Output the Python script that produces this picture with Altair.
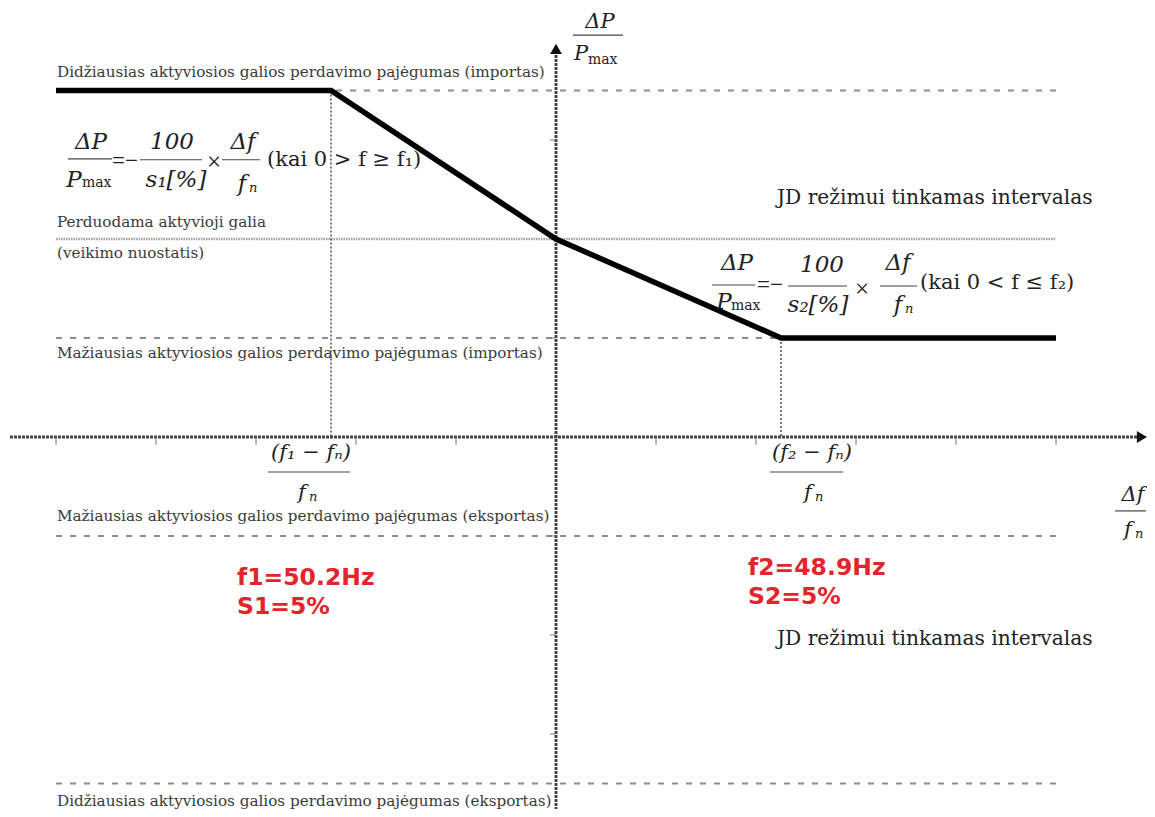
import altair as alt
import pandas as pd

# ---------------- data (in axis units: x = Δf/fn ticks, y = ΔP/Pmax ticks) ----------------
curve_f = [-5.0, -2.25, 0.0, 2.25, 5.0]
curve_p = [3.5, 3.5, 2.0, 1.0, 1.0]

level_names = [
    "Didžiausias aktyviosios galios perdavimo pajėgumas (importas)",
    "Perduodama aktyvioji galia",
    "Mažiausias aktyviosios galios perdavimo pajėgumas (importas)",
    "Mažiausias aktyviosios galios perdavimo pajėgumas (eksportas)",
    "Didžiausias aktyviosios galios perdavimo pajėgumas (eksportas)",
]
level_values = [3.5, 2.0, 1.0, -1.0, -3.5]
level_kind = ["dash", "set", "dash", "dash", "dash"]
level_from = -5.0
level_to = 5.0

f1_value = -2.25
f2_value = 2.25
f1_top = 3.5
f2_top = 1.0

x_ticks = [-5, -4, -3, -2, -1, 1, 2, 3, 4, 5]
y_ticks = [-3, -2, -1, 1, 2, 3]

red_labels = ["f1=50.2Hz", "S1=5%", "f2=48.9Hz", "S2=5%"]
zone_label = "JD režimui tinkamas intervalas"

# ---------------- layout ----------------
W, H = 1139, 801
XD = [-5.48, 5.91]
YD = [-3.758, 4.333]
X = alt.Scale(domain=XD, nice=False, zero=False)
Y = alt.Scale(domain=YD, nice=False, zero=False)
INK = "#222222"
MATH_FONT = "DejaVu Serif"


def xenc(f="x"):
    return alt.X(f"{f}:Q", scale=X, axis=None)


def yenc(f="y"):
    return alt.Y(f"{f}:Q", scale=Y, axis=None)


def hrules(df, **kw):
    return alt.Chart(df).mark_rule(**kw).encode(x=xenc("x"), x2="x2:Q", y=yenc("y"))


def vrules(df, **kw):
    return alt.Chart(df).mark_rule(**kw).encode(x=xenc("x"), y=yenc("y"), y2="y2:Q")


def texts(rows, **kw):
    df = pd.DataFrame(rows, columns=["t", "x", "y"])
    return alt.Chart(df).mark_text(baseline="middle", **kw).encode(
        x=xenc("x"), y=yenc("y"), text="t:N"
    )


layers = []

# level lines
lv = pd.DataFrame({"y": level_values, "kind": level_kind})
lv["x"] = level_from
lv["x2"] = level_to
layers.append(hrules(lv[lv.kind == "dash"], color="#8c8c8c", strokeWidth=2, strokeDash=[6, 8]))
layers.append(hrules(lv[lv.kind == "set"], color="#a0a0a0", strokeWidth=2.5, strokeDash=[1.5, 1]))

# vertical guide lines at f1, f2
gd = pd.DataFrame({"x": [f1_value, f2_value], "y": [f1_top, f2_top], "y2": [0.0, 0.0]})
layers.append(vrules(gd, color="#555555", strokeWidth=1.6, strokeDash=[2, 2]))

# axes
layers.append(hrules(pd.DataFrame({"x": [-5.46], "x2": [5.84], "y": [0.0]}),
                     color="#444444", strokeWidth=3, strokeDash=[3, 1]))
layers.append(vrules(pd.DataFrame({"x": [0.0], "y": [3.94], "y2": [YD[0]]}),
                     color="#444444", strokeWidth=3, strokeDash=[3, 1]))

# ticks
xt = pd.DataFrame({"x": x_ticks})
xt["y"] = 0.0
xt["y2"] = -0.08
layers.append(vrules(xt, color="#777777", strokeWidth=1))
yt = pd.DataFrame({"y": y_ticks})
yt["x"] = -0.06
yt["x2"] = 0.0
layers.append(hrules(yt, color="#777777", strokeWidth=1))

# arrow heads
layers.append(alt.Chart(pd.DataFrame({"x": [5.86], "y": [0.0]})).mark_point(
    shape="triangle-right", filled=True, size=140, color="#111111", opacity=1
).encode(x=xenc(), y=yenc()))
layers.append(alt.Chart(pd.DataFrame({"x": [0.0], "y": [3.92]})).mark_point(
    shape="triangle-up", filled=True, size=140, color="#111111", opacity=1
).encode(x=xenc(), y=yenc()))

# characteristic curve
cd = pd.DataFrame({"x": curve_f, "y": curve_p, "o": range(len(curve_f))})
layers.append(alt.Chart(cd).mark_line(color="#000000", strokeWidth=5.5, strokeJoin="miter").encode(
    x=xenc(), y=yenc(), order="o:Q"))

# fraction bars
fr = pd.DataFrame([
    # left formula
    (-4.88, -4.44, 2.81), (-4.16, -3.54, 2.80), (-3.34, -2.96, 2.80),
    # right formula
    (1.56, 1.99, 1.535), (2.32, 2.91, 1.525), (3.24, 3.61, 1.525),
    # axis titles
    (0.17, 0.67, 4.06), (5.59, 5.90, -0.747),
    # tick fractions
    (-2.88, -2.06, -0.354), (2.14, 2.87, -0.354),
], columns=["x", "x2", "y"])
layers.append(hrules(fr, color="#444444", strokeWidth=1.2))

# level labels
layers.append(texts([
    (level_names[0], -4.99, 3.69),
    (level_names[1], -4.99, 2.17),
    ("(veikimo nuostatis)", -4.99, 1.86),
    (level_names[2], -4.99, 0.85),
    (level_names[3], -4.99, -0.80),
    (level_names[4], -4.99, -3.68),
], align="left", font="DejaVu Serif", fontSize=15.2, color="#3a3a3a"))

# zone labels
layers.append(texts([
    (zone_label, 2.21, 2.41),
    (zone_label, 2.21, -2.04),
], align="left", font="DejaVu Serif", fontSize=20.2, color=INK))

# red parameter labels
layers.append(texts([
    (red_labels[0], -3.19, -1.424),
    (red_labels[1], -3.19, -1.717),
    (red_labels[2], 1.92, -1.323),
    (red_labels[3], 1.92, -1.616),
], align="left", font="DejaVu Sans", fontSize=23.5, fontWeight="bold", color="#e3242b"))

# italic math glyphs (formulas)
layers.append(texts([
    ("ΔP", -4.65, 2.98), ("P", -4.82, 2.60), ("100", -3.84, 2.98), ("s₁[%]", -3.80, 2.60),
    ("Δf", -3.13, 2.98), ("f", -3.14, 2.56),
    ("ΔP", 1.81, 1.758), ("P", 1.68, 1.36), ("100", 2.66, 1.737), ("s₂[%]", 2.62, 1.333),
    ("Δf", 3.42, 1.758), ("f", 3.42, 1.333),
], align="center", font=MATH_FONT, fontSize=23, fontStyle="italic", color=INK))

# italic math glyphs (axis titles and tick fractions)
layers.append(texts([
    ("ΔP", 0.44, 4.19), ("P", 0.25, 3.87),
    ("Δf", 5.77, -0.586), ("f", 5.72, -0.94),
    ("(f₁ − fₙ)", -2.45, -0.162), ("f", -2.54, -0.566),
    ("(f₂ − fₙ)", 2.56, -0.162), ("f", 2.52, -0.566),
], align="center", font=MATH_FONT, fontSize=21, fontStyle="italic", color=INK))

# small italic subscripts n
layers.append(texts([
    ("n", -3.07, 2.51), ("n", 3.49, 1.29), ("n", 5.79, -0.98), ("n", -2.47, -0.606), ("n", 2.59, -0.606),
], align="left", font=MATH_FONT, fontSize=13, fontStyle="italic", color=INK))

# small upright subscripts
layers.append(texts([
    ("max", -4.74, 2.57), ("max", 1.75, 1.32), ("max", 0.32, 3.81),
], align="left", font=MATH_FONT, fontSize=14, color=INK))

# operators and conditions
layers.append(texts([
    ("=−", -4.44, 2.79), ("=−", 2.01, 1.54),
], align="left", font="Liberation Serif", fontSize=23, color=INK))
layers.append(texts([
    ("×", -3.42, 2.78), ("×", 3.06, 1.49),
], align="center", font="Liberation Serif", fontSize=25, color=INK))
layers.append(texts([
    ("(kai 0 > f ≥ f₁)", -2.89, 2.80), ("(kai 0 < f ≤ f₂)", 3.64, 1.556),
], align="left", font="DejaVu Serif", fontSize=21, color=INK))

chart = alt.layer(*layers).properties(
    width=W, height=H, padding=0, autosize=alt.AutoSizeParams(type="none")
).configure_view(stroke=None)

chart.save("out.html", embed_options={"renderer": "svg", "actions": False})
